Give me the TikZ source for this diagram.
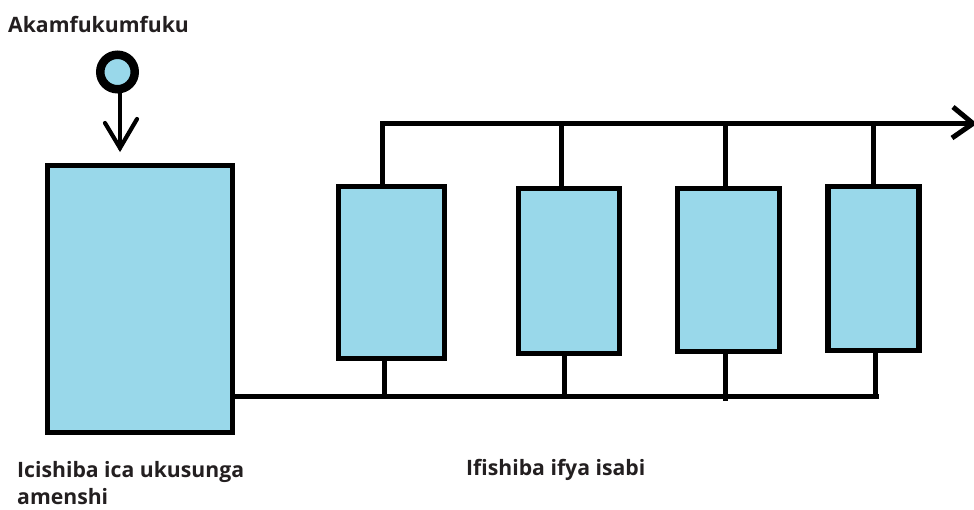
\documentclass[tikz,border=0pt]{standalone}
\usepackage{fontspec}
\setmainfont{Open Sans}
\definecolor{fillblue}{HTML}{99D8EA}
\definecolor{labelink}{HTML}{231F20}
\tikzset{
  x=1pt,y=-1pt,
  tankbox/.style={draw=black,fill=fillblue,line width=5.4pt,inner sep=0pt,outer sep=0pt},
  wire/.style={draw=black,line width=5pt},
  thinwire/.style={draw=black,line width=4.2pt,line cap=round},
  lbl/.style={text=labelink,inner sep=0pt,anchor=base west,align=left,font=\bfseries\fontsize{21.2}{27}\selectfont}
}
\begin{document}
\begin{tikzpicture}
\useasboundingbox (0,0) rectangle (974,509);
% boxes
\node[tankbox,minimum width=185pt,minimum height=267pt] (tank) at (140,299) {};
\node[tankbox,minimum width=106pt,minimum height=172pt] (b1) at (391.5,272.5) {};
\node[tankbox,minimum width=101pt,minimum height=165pt] (b2) at (569,271) {};
\node[tankbox,minimum width=102pt,minimum height=163pt] (b3) at (728.5,270) {};
\node[tankbox,minimum width=91pt,minimum height=164pt] (b4) at (873.5,268.5) {};
% bus junctions
\coordinate (t0) at (382,123.5);
\coordinate (t1) at (561,123.5);
\coordinate (t2) at (725,123.5);
\coordinate (t3) at (873,123.5);
\coordinate (tend) at (973,123.5);
\coordinate (g0) at (235,396.5);
\coordinate (g1) at (384,396.5);
\coordinate (g2) at (564,396.5);
\coordinate (g3) at (725,396.5);
\coordinate (g4) at (875,396.5);
\coordinate (gend) at (879,396.5);
\coordinate (g3low) at (725,401);
\coordinate (hu) at (953,107);
\coordinate (hd) at (952,138);
% top bus
\draw[wire,line cap=butt] (t0 |- b1.north) -- (t0) -- (tend);
\draw[wire] (t1) -- (t1 |- b2.north);
\draw[wire] (t2) -- (t2 |- b3.north);
\draw[wire] (t3) -- (t3 |- b4.north);
\draw[wire,line join=miter] (hu) -- (tend) -- (hd);
% bottom bus
\draw[wire] (g0) -- (gend);
\draw[wire] (g1 |- b1.south) -- (g1);
\draw[wire] (g2 |- b2.south) -- (g2);
\draw[wire] (g3 |- b3.south) -- (g3low);
\draw[wire] (g4 |- b4.south) -- (g4);
% pump
\node[circle,draw=black,fill=fillblue,line width=8.5pt,minimum size=34.5pt,inner sep=0pt,outer sep=0pt] (pump) at (117.5,72) {};
\coordinate (atip) at (120,148);
\coordinate (al) at (105,123);
\coordinate (ar) at (137,119);
\draw[thinwire] (pump.south -| atip) -- (atip);
\draw[thinwire,line join=miter] (al) -- (atip) -- (ar);
% labels
\node[lbl] (l1) at (8,32) {Akamfukumfuku};
\node[lbl] (l2) at (17,504) {Icishiba ica ukusunga\\amenshi};
\node[lbl] (l3) at (466,475) {Ifishiba ifya isabi};
\end{tikzpicture}
\end{document}
